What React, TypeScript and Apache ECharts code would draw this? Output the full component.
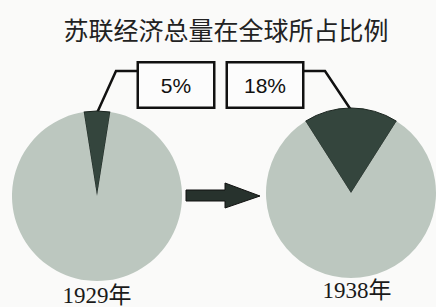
import React, { useEffect, useRef } from "react";
import * as echarts from "echarts";

const chartTitle = "苏联经济总量在全球所占比例";
const years = ["1929年", "1938年"];
const sovietShare = [5, 18];
const otherLabel = "其他国家";
const sovietLabel = "苏联";

const pieCenters = [
  [97, 196],
  [351, 193],
];
const pieRadius = 85;
const boxCenters = [
  [176, 85],
  [265, 85],
];
const bendPoints = [
  [116, 71],
  [325, 71],
];
const boxEdgeX = [140, 302];

export default function App() {
  const ref = useRef<HTMLDivElement>(null);
  useEffect(() => {
    if (!ref.current) return;
    const chart = echarts.init(ref.current, null, { renderer: "svg" });
    const series = sovietShare.map((share, i) => {
      const half = (share / 100) * 180;
      return {
        type: "pie",
        center: pieCenters[i],
        radius: pieRadius,
        startAngle: 90 + half,
        clockwise: true,
        silent: true,
        avoidLabelOverlap: false,
        emphasis: { disabled: true },
        label: {
          show: true,
          formatter: "{c}%",
          fontFamily: '"Liberation Sans", Arial, sans-serif',
          fontSize: 21,
          color: "#111",
          backgroundColor: "#fcfcfc",
          borderColor: "#111",
          borderWidth: 2.5,
          width: 44,
          overflow: "none",
          align: "center",
          padding: [11, 15],
        },
        labelLine: { show: true, lineStyle: { color: "#111", width: 2.5 } },
        labelLayout: (p: any) => {
          if (p.dataIndex !== 0) return {};
          const [cx, cy] = pieCenters[i];
          return {
            x: boxCenters[i][0],
            y: boxCenters[i][1],
            align: "center",
            verticalAlign: "middle",
            labelLinePoints: [
              [cx, cy - pieRadius + 2],
              bendPoints[i],
              [boxEdgeX[i], bendPoints[i][1]],
            ],
          };
        },
        data: [
          {
            name: sovietLabel,
            value: share,
            itemStyle: { color: "#34453d", borderColor: "#1b2520", borderWidth: 1 },
          },
          {
            name: otherLabel,
            value: 100 - share,
            itemStyle: { color: "#bcc7bf", borderWidth: 0 },
            label: { show: false },
            labelLine: { show: false },
          },
        ],
      };
    });
    chart.setOption({
      animation: false,
      backgroundColor: "#fafaf9",
      series,
      graphic: [
        {
          type: "text",
          x: 226,
          y: 29,
          style: {
            text: chartTitle,
            fontFamily: '"Noto Sans CJK SC", sans-serif',
            fontSize: 25,
            fill: "#222",
            textAlign: "center",
            textVerticalAlign: "middle",
          },
        },
        {
          type: "polygon",
          shape: {
            points: [
              [186, 190],
              [225, 190],
              [225, 183],
              [260, 196],
              [225, 208],
              [225, 201],
              [186, 201],
            ],
          },
          style: { fill: "#27322d", stroke: "#111", lineWidth: 1 },
        },
        ...years.map((y, i) => ({
          type: "text",
          x: pieCenters[i][0] + (i === 0 ? 0 : 6),
          y: i === 0 ? 295 : 290,
          style: {
            text: y,
            fontFamily: '"Liberation Serif", "Noto Sans CJK SC", serif',
            fontSize: 23,
            fill: "#1a1a1a",
            textAlign: "center",
            textVerticalAlign: "middle",
          },
        })),
      ],
    });
    return () => chart.dispose();
  }, []);
  return (
    <div
      ref={ref}
      style={{ position: "fixed", left: 0, top: 0, width: 436, height: 307 }}
    />
  );
}
